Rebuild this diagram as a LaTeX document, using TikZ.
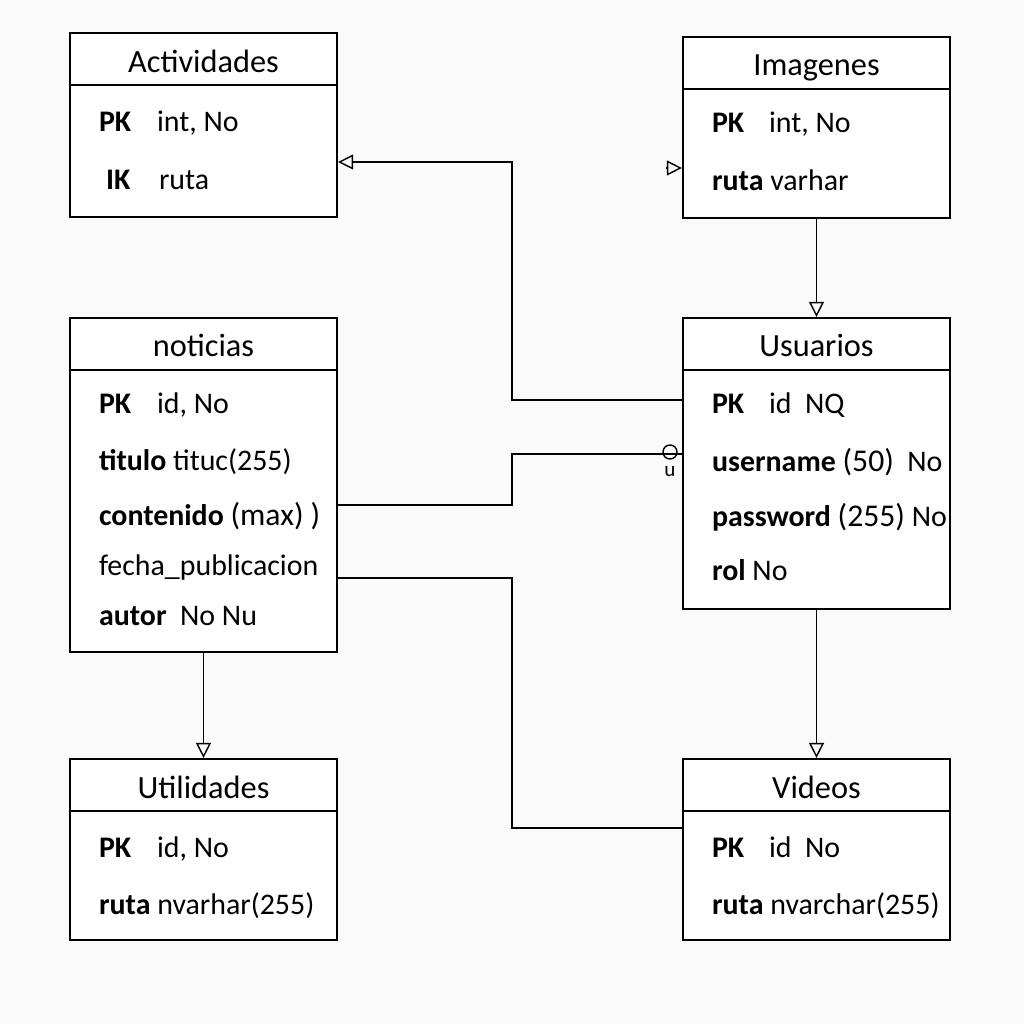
\documentclass[tikz,border=0pt]{standalone}
\usepackage{fontspec}
\setmainfont{Carlito}
\usetikzlibrary{arrows.meta}

\begin{document}
\begin{tikzpicture}[x=0.01cm,y=-0.01cm,line width=0.6pt,>={Triangle[open,length=0.15cm,width=0.15cm]},
tbl/.style={draw,fill=white,minimum width=2.67cm,inner sep=0pt},
hd/.style={anchor=base,inner sep=0pt,font=\fontsize{9.2}{11}\selectfont},
fld/.style={anchor=base west,inner sep=0pt,font=\fontsize{8.5}{10}\selectfont},
cn/.style={line width=0.4pt}]
\fill[gray!4] (0,0) rectangle (1024,1024);
\useasboundingbox (0,0) rectangle (1024,1024);
% tables
\node[tbl,minimum height=1.84cm] (act) at (203.5,125) {};
\node[tbl,minimum height=1.81cm] (img) at (816.5,127.5) {};
\node[tbl,minimum height=3.34cm] (noti) at (203.5,485) {};
\node[tbl,minimum height=2.91cm] (usr) at (816.5,463.5) {};
\node[tbl,minimum height=1.81cm] (utl) at (203.5,849.5) {};
\node[tbl,minimum height=1.81cm] (vid) at (816.5,849.5) {};
\foreach \t in {act,img,noti,usr,utl,vid}{\draw (\t.north west) ++(0,53) -- ++(267,0);};
% headers
\node[hd] (actH) at (203.5,72) {Actividades};
\node[hd] (imgH) at (816.5,75) {Imagenes};
\node[hd] (notiH) at (203.5,356) {noticias};
\node[hd] (usrH) at (816.5,356) {Usuarios};
\node[hd] (utlH) at (203.5,798) {Utilidades};
\node[hd] (vidH) at (816.5,798) {Videos};
% fields
\node[fld] (act1) at (98,131) {\textbf{PK}}; \node[fld] (act1v) at (156,131) {int, No};
\node[fld] (act2) at (105,189) {\textbf{IK}}; \node[fld] (act2v) at (158,189) {ruta};
\node[fld] (img1) at (711,133) {\textbf{PK}}; \node[fld] (img1v) at (768,133) {int, No};
\node[fld] (img2) at (711,190) {\textbf{ruta} varhar};
\node[fld] (noti1) at (98,413) {\textbf{PK}}; \node[fld] (noti1v) at (156,413) {id, No};
\node[fld] (noti2) at (98,470) {\textbf{titulo} tituc(255)};
\node[fld] (noti3) at (98,525) {\textbf{contenido} {\small(max) )}};
\node[fld] (noti4) at (98,575) {fecha\_publicacion};
\node[fld] (noti5) at (98,625) {\textbf{autor}\ \ No Nu};
\node[fld] (usr1) at (711,413) {\textbf{PK}}; \node[fld] (usr1v) at (768,413) {id\ \ NQ};
\node[fld] (usr2) at (711,471) {\textbf{username} {\small(50)}\ \ No};
\node[fld] (usr3) at (711,526) {\textbf{password} {\small(255)} No};
\node[fld] (usr4) at (711,580) {\textbf{rol} No};
\node[fld] (utl1) at (98,857) {\textbf{PK}}; \node[fld] (utl1v) at (156,857) {id, No};
\node[fld] (utl2) at (98,914) {\textbf{ruta} nvarhar(255)};
\node[fld] (vid1) at (711,857) {\textbf{PK}}; \node[fld] (vid1v) at (768,857) {id\ \ No};
\node[fld] (vid2) at (711,914) {\textbf{ruta} nvarchar(255)};
% connectors
\coordinate (j1) at (512,400); \coordinate (j2) at (512,162);
\draw[cn,->] (usr.west|-j1) -- (j1) -- (j2) -- (act.east|-j2);
\coordinate (s1) at (666,168);
\draw[cn,->] (s1) -- (img.west|-s1);
\draw[cn,->] (img.south) -- (usr.north);
\coordinate (j3) at (512,505); \coordinate (j4) at (512,454);
\draw[cn] (noti.east|-j3) -- (j3) -- (j4) -- (usr.west|-j4);
\node[cn,draw,circle,minimum size=0.14cm,inner sep=0pt] (ring) at (670,452) {};
\node[inner sep=0pt,font=\fontsize{6}{6}\selectfont] (ringU) at (670,472) {u};
\coordinate (j5) at (512,578); \coordinate (j6) at (512,828);
\draw[cn] (noti.east|-j5) -- (j5) -- (j6) -- (vid.west|-j6);
\draw[cn,->] (noti.south) -- (utl.north);
\draw[cn,->] (usr.south) -- (vid.north);
\end{tikzpicture}
\end{document}
